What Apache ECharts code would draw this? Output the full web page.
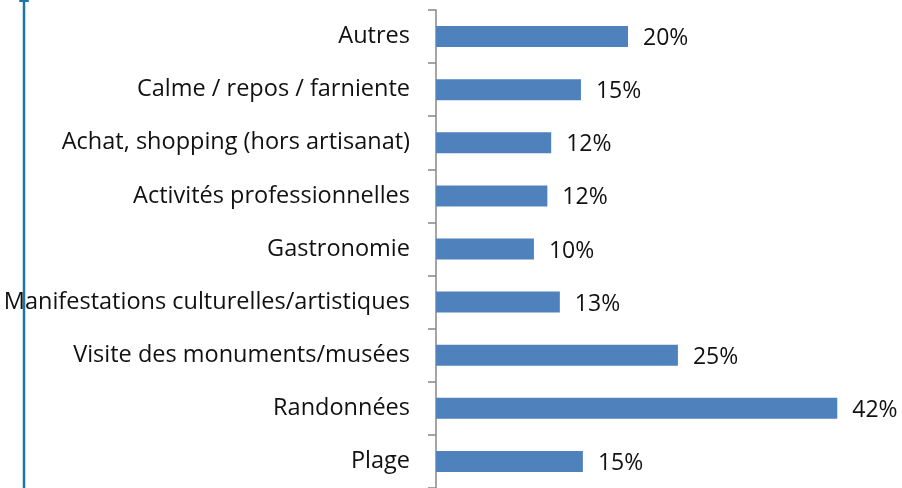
<!DOCTYPE html>
<html>
<head>
<meta charset="utf-8">
<script src="https://cdn.jsdelivr.net/npm/echarts@6/dist/echarts.min.js"></script>
<style>
  html, body { margin: 0; padding: 0; background: #fff; }
  #chart { width: 902px; height: 488px; }
</style>
</head>
<body>
<div id="chart"></div>
<script>
// catégories, de bas en haut
const categories = [
  'Plage',
  'Randonnées',
  'Visite des monuments/musées',
  'Manifestations culturelles/artistiques',
  'Gastronomie',
  'Activités professionnelles',
  'Achat, shopping (hors artisanat)',
  'Calme / repos / farniente',
  'Autres'
]
// parts en %
const values = [15.3, 41.8, 25.2, 12.9, 10.2, 11.6, 12.0, 15.1, 20.0]

const myChart = echarts.init(document.getElementById('chart'))

const option = {
  animation: false,
  textStyle: { fontFamily: 'Open Sans' },
  grid: {
    left: 436,
    top: 10,
    width: 432,
    height: 480
  },
  xAxis: {
    type: 'value',
    min: 0,
    max: 45,
    show: false
  },
  yAxis: {
    type: 'category',
    data: categories,
    axisLine: { show: true, lineStyle: { color: '#878787', width: 1.5 } },
    axisTick: { show: true, length: 8, lineStyle: { color: '#878787', width: 1.5 } },
    axisLabel: {
      margin: 26,
      fontSize: 23.5,
      color: '#111',
      fontFamily: 'Open Sans',
      padding: [5, 0, 0, 0]
    }
  },
  series: [{
    type: 'bar',
    data: values,
    barWidth: 21,
    itemStyle: { color: '#4F81BD' },
    label: {
      show: true,
      position: 'right',
      distance: 15,
      offset: [0, 2],
      fontSize: 23,
      color: '#111',
      formatter: (p) => Math.round(p.value) + '%'
    }
  }],
  graphic: [
    {
      type: 'line',
      shape: { x1: 24, y1: 0, x2: 24, y2: 488 },
      style: { stroke: '#1C75A6', lineWidth: 2.5 }
    },
    {
      type: 'rect',
      shape: { x: 19, y: 0, width: 10, height: 2, r: 1 },
      style: { fill: '#1C75A6' }
    }
  ]
}

myChart.setOption(option)
</script>
</body>
</html>
